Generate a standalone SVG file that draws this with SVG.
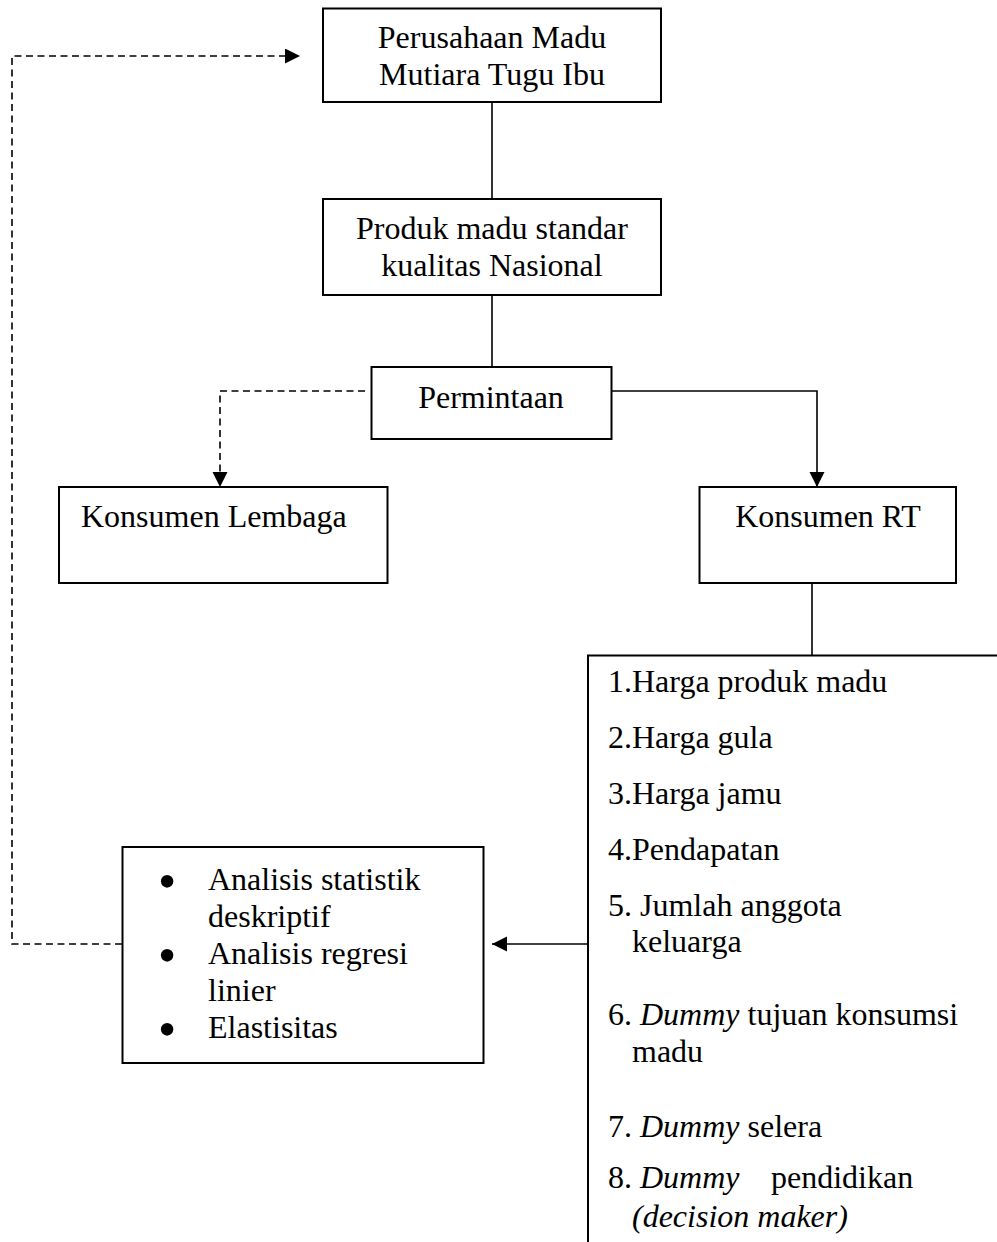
<svg xmlns="http://www.w3.org/2000/svg" width="997" height="1242" viewBox="0 0 997 1242">
  <style>
    .box { fill: #ffffff; stroke: #000000; stroke-width: 2; }
    .ln { fill: none; stroke: #000000; stroke-width: 1.6; }
    .dash { fill: none; stroke: #000000; stroke-width: 1.6; stroke-dasharray: 7 4.5; }
    text { font-family: "Liberation Serif", "Times New Roman", serif; font-size: 32px; fill: #000000; }
    .c { text-anchor: middle; }
    .i { font-style: italic; }
    .b { font-size: 52px; text-anchor: middle; }
  </style>
  <defs>
    <marker id="arr" markerUnits="userSpaceOnUse" markerWidth="16" markerHeight="16" refX="15" refY="7.5" orient="auto">
      <path d="M0,0 L15,7.5 L0,15 Z" fill="#000000" stroke="none"/>
    </marker>
  </defs>
  <rect width="997" height="1242" fill="#ffffff"/>

  <g id="connectors">
    <path class="ln" d="M492,102 V199"/>
    <path class="ln" d="M492,295 V367"/>
    <path class="dash" d="M365,391 H220 V487" marker-end="url(#arr)"/>
    <path class="ln" d="M611,391 H817 V487" marker-end="url(#arr)"/>
    <path class="ln" d="M812,583 V655"/>
    <path class="ln" d="M588,944 H492" marker-end="url(#arr)"/>
    <path class="dash" d="M122,944 H12 V56 H300" marker-end="url(#arr)"/>
  </g>

  <g id="node-perusahaan">
    <rect class="box" x="323" y="8.5" width="338" height="93.5"/>
    <text class="c" x="492" y="48">Perusahaan Madu</text>
    <text class="c" x="492" y="85">Mutiara Tugu Ibu</text>
  </g>

  <g id="node-produk">
    <rect class="box" x="323" y="199" width="338" height="96"/>
    <text class="c" x="492" y="239">Produk madu standar</text>
    <text class="c" x="492" y="276">kualitas Nasional</text>
  </g>

  <g id="node-permintaan">
    <rect class="box" x="371.5" y="367" width="240" height="72"/>
    <text class="c" x="491" y="408">Permintaan</text>
  </g>

  <g id="node-lembaga">
    <rect class="box" x="59" y="487" width="328.5" height="96"/>
    <text x="81" y="527">Konsumen Lembaga</text>
  </g>

  <g id="node-rt">
    <rect class="box" x="699.5" y="487" width="256.5" height="96"/>
    <text class="c" x="828" y="527">Konsumen RT</text>
  </g>

  <g id="node-faktor">
    <path class="box" d="M588,1250 V655.5 H1005" fill="none"/>
    <text x="608" y="692">1.Harga produk madu</text>
    <text x="608" y="748">2.Harga gula</text>
    <text x="608" y="804">3.Harga jamu</text>
    <text x="608" y="860">4.Pendapatan</text>
    <text x="608" y="916">5. Jumlah anggota</text>
    <text x="632" y="952">keluarga</text>
    <text x="608" y="1025">6. <tspan class="i">Dummy</tspan> tujuan konsumsi</text>
    <text x="632" y="1062">madu</text>
    <text x="608" y="1137">7. <tspan class="i">Dummy</tspan> selera</text>
    <text x="608" y="1188">8. <tspan class="i">Dummy</tspan><tspan x="771">pendidikan</tspan></text>
    <text x="632" y="1227" class="i">(decision maker)</text>
  </g>

  <g id="node-analisis">
    <rect class="box" x="122.5" y="847" width="361" height="216"/>
    <text class="b" x="167" y="899">•</text>
    <text x="208" y="890">Analisis statistik</text>
    <text x="208" y="927">deskriptif</text>
    <text class="b" x="167" y="973">•</text>
    <text x="208" y="964">Analisis regresi</text>
    <text x="208" y="1001">linier</text>
    <text class="b" x="167" y="1047">•</text>
    <text x="208" y="1038">Elastisitas</text>
  </g>
</svg>
